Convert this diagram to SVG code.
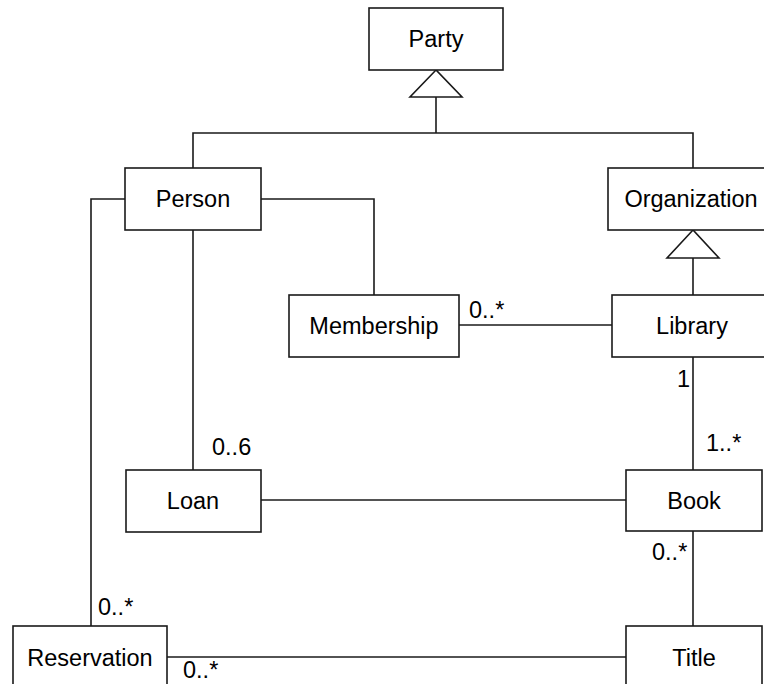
<svg xmlns="http://www.w3.org/2000/svg" width="764" height="684" viewBox="0 0 764 684">
<style>
.box{fill:#fff;stroke:#1a1a1a;stroke-width:1.6}
.ln{fill:none;stroke:#1a1a1a;stroke-width:1.6}
.tri{fill:#fff;stroke:#1a1a1a;stroke-width:1.6}
text{font-family:"Liberation Sans",Arial,sans-serif;font-size:23.5px;fill:#000}
.c{text-anchor:middle}
</style>
<rect width="764" height="684" fill="#fff"/>
<g id="connectors">
<polyline class="ln" points="436,97 436,133"/>
<polyline class="ln" points="193,168 193,133 693,133 693,168"/>
<polygon class="tri" points="436,70 410,97 462,97"/>
<polyline class="ln" points="693,258 693,295"/>
<polygon class="tri" points="693,230 667,258 719,258"/>
<polyline class="ln" points="261,199 374,199 374,295"/>
<polyline class="ln" points="459,325 612,325"/>
<polyline class="ln" points="693,357 693,470"/>
<polyline class="ln" points="193,230 193,470"/>
<polyline class="ln" points="261,500 626,500"/>
<polyline class="ln" points="693,531 693,626"/>
<polyline class="ln" points="125,199 91,199 91,626"/>
<polyline class="ln" points="167,657 626,657"/>
<text x="469" y="318">0..*</text>
<text x="677" y="387">1</text>
<text x="212" y="455">0..6</text>
<text x="706" y="451">1..*</text>
<text x="652" y="560">0..*</text>
<text x="98" y="615">0..*</text>
<text x="183" y="678">0..*</text>
</g>
<g id="party"><rect class="box" x="369" y="8" width="134" height="62"/><text class="c" x="436" y="47">Party</text></g>
<g id="person"><rect class="box" x="125" y="168" width="136" height="62"/><text class="c" x="193" y="207">Person</text></g>
<g id="organization"><rect class="box" x="608" y="168" width="170" height="62"/><text class="c" x="691" y="207">Organization</text></g>
<g id="membership"><rect class="box" x="289" y="295" width="170" height="62"/><text class="c" x="374" y="334">Membership</text></g>
<g id="library"><rect class="box" x="612" y="295" width="162" height="62"/><text class="c" x="692" y="334">Library</text></g>
<g id="loan"><rect class="box" x="126" y="470" width="135" height="62"/><text class="c" x="193" y="509">Loan</text></g>
<g id="book"><rect class="box" x="626" y="470" width="136" height="61"/><text class="c" x="694" y="509">Book</text></g>
<g id="reservation"><rect class="box" x="13" y="626" width="154" height="70"/><text class="c" x="90" y="666">Reservation</text></g>
<g id="title"><rect class="box" x="626" y="626" width="136" height="70"/><text class="c" x="694" y="666">Title</text></g>
</svg>
